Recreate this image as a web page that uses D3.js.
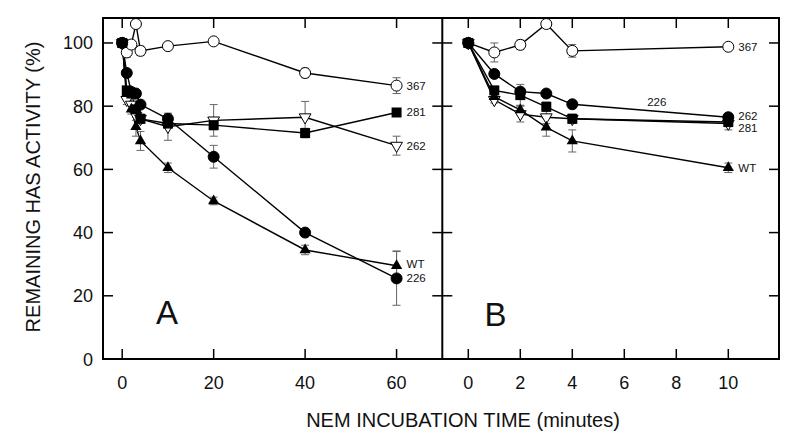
<!DOCTYPE html>
<html><head><meta charset="utf-8">
<script src="https://cdn.jsdelivr.net/npm/d3@7"></script>
<style>body{margin:0;background:#fff}svg{display:block}text{font-family:"Liberation Sans",Arial,sans-serif;fill:#111}</style>
</head><body><svg id="c" width="800" height="447"></svg>
<script>
// ---------- data ----------
const timesA = [0, 1, 2, 3, 4, 10, 20, 40, 60];
const timesB = [0, 1, 2, 3, 4, 10];
const seriesNames = ["367", "226", "281", "262", "WT"];
const markerTypes = ["circleOpen", "circle", "square", "triDownOpen", "triangle"];

const A_367 = [100, 97, 99.5, 106, 97.5, 99, 100.5, 90.5, 86.5];
const A_226 = [100, 90.5, 84.5, 84, 80.5, 76, 64, 40, 25.5];
const A_281 = [100, 85, 84, 79, 76, 74.5, 74, 71.5, 78];
const A_262 = [100, 82, 80.5, 77, 76, 73.5, 75.5, 76.5, 67.5];
const A_WT  = [100, 84, 79, 73.5, 69, 60.5, 50, 34.5, 29.5];
const A_367_err = [0, 1.5, 1, 0, 1.5, 0.8, 0.8, 1.5, 2.5];
const A_226_err = [0, 1, 1, 1, 1, 1.5, 3.6, 0.8, 8.5];
const A_281_err = [0, 1, 1, 1, 1, 1.5, 1.5, 1.5, 0];
const A_262_err = [0, 1.5, 1.5, 1.5, 1.5, 4.3, 5, 5, 3];
const A_WT_err  = [0, 1.5, 1.5, 3, 3, 1.5, 1.2, 1.5, 4.7];

const B_367 = [100, 97, 99.4, 106, 97.5, 98.8];
const B_226 = [100, 90.2, 84.6, 84, 80.6, 76.5];
const B_281 = [100, 85, 83.5, 79.8, 76, 75];
const B_262 = [100, 82, 77.5, 76.5, 76, 74.5];
const B_WT  = [100, 83, 78.8, 73.3, 69, 60.5];
const B_367_err = [0, 3, 1.5, 0, 2, 0.8];
const B_226_err = [0, 1, 1, 1, 1, 1];
const B_281_err = [0, 1, 3.4, 1.5, 1.5, 2.5];
const B_262_err = [0, 1, 2.5, 2, 1, 1];
const B_WT_err  = [0, 1, 1.5, 2.8, 3.5, 1.5];

const labelsA_y = [86.5, 78, 67.5, 30, 25.5];   // 367, 281, 262, WT, 226
const labelsA_t = ["367", "281", "262", "WT", "226"];
const labelsB_y = [98.8, 76.8, 73.2, 60.5];
const labelsB_t = ["367", "262", "281", "WT"];
const labelB226 = {t: 7.25, v: 81.2, text: "226"};

const yTicks = [0, 20, 40, 60, 80, 100];
const xTicksA = [0, 20, 40, 60];
const xTicksB = [0, 2, 4, 6, 8, 10];

// ---------- layout ----------
const svg = d3.select("#c");
const plotTop = 18, plotBottom = 359;
const y = d3.scaleLinear().domain([0, 107.9]).range([plotBottom, plotTop]);
const xA = d3.scaleLinear().domain([-4.2, 70]).range([103, 442.3]);
const xB = d3.scaleLinear().domain([-1.0, 11.95]).range([442.3, 779]);

function marker(g, type, cx, cy) {
  if (type === "circleOpen" || type === "circle") {
    g.append("circle").attr("cx", cx).attr("cy", cy).attr("r", 5.5)
      .attr("fill", type === "circle" ? "#000" : "#fff").attr("stroke", "#000").attr("stroke-width", 1);
  } else if (type === "square") {
    g.append("rect").attr("x", cx - 5).attr("y", cy - 5).attr("width", 10).attr("height", 10).attr("fill", "#000");
  } else if (type === "triangle") {
    const s = d3.symbol().type(d3.symbolTriangle).size(55);
    g.append("path").attr("d", s()).attr("transform", `translate(${cx},${cy})`).attr("fill", "#000");
  } else if (type === "triDownOpen") {
    const s = d3.symbol().type(d3.symbolTriangle).size(60);
    g.append("path").attr("d", s()).attr("transform", `translate(${cx},${cy}) rotate(180)`)
      .attr("fill", "#fff").attr("stroke", "#000").attr("stroke-width", 1);
  }
}

function drawPanel(x, times, vals, errs, order) {
  const g = svg.append("g");
  const line = d3.line().x(d => x(d[0])).y(d => y(d[1]));
  order.forEach(i => {
    g.append("path").datum(times.map((t, j) => [t, vals[i][j]]))
      .attr("d", line).attr("fill", "none").attr("stroke", "#000").attr("stroke-width", 1.4);
  });
  order.forEach(i => {
    times.forEach((t, j) => {
      const e = errs[i][j]; if (!e) return;
      const cx = x(t), y1 = y(vals[i][j] + e), y2 = y(vals[i][j] - e);
      g.append("line").attr("x1", cx).attr("x2", cx).attr("y1", y1).attr("y2", y2).attr("stroke", "#666").attr("stroke-width", 1);
      [y1, y2].forEach(yy => g.append("line").attr("x1", cx - 4).attr("x2", cx + 4).attr("y1", yy).attr("y2", yy).attr("stroke", "#666").attr("stroke-width", 1));
    });
  });
  order.forEach(i => {
    times.forEach((t, j) => marker(g, markerTypes[i], x(t), y(vals[i][j])));
  });
}

const valsA = [A_367, A_226, A_281, A_262, A_WT];
const errsA = [A_367_err, A_226_err, A_281_err, A_262_err, A_WT_err];
const valsB = [B_367, B_226, B_281, B_262, B_WT];
const errsB = [B_367_err, B_226_err, B_281_err, B_262_err, B_WT_err];
drawPanel(xA, timesA, valsA, errsA, [0, 3, 2, 4, 1]);
drawPanel(xB, timesB, valsB, errsB, [0, 3, 4, 2, 1]);

// ---------- frames & ticks ----------
const fr = svg.append("g").attr("stroke", "#000").attr("fill", "none");
fr.append("rect").attr("x", 103).attr("y", plotTop).attr("width", 779 - 103).attr("height", plotBottom - plotTop).attr("stroke-width", 2);
fr.append("line").attr("x1", 442.3).attr("x2", 442.3).attr("y1", plotTop).attr("y2", plotBottom).attr("stroke-width", 2);
const tl = 10;
yTicks.forEach(v => {
  if (v === 0) return;
  const yy = y(v);
  fr.append("line").attr("x1", 103).attr("x2", 103 + tl).attr("y1", yy).attr("y2", yy).attr("stroke-width", 1.5);
  fr.append("line").attr("x1", 442.3 - tl).attr("x2", 442.3 + tl).attr("y1", yy).attr("y2", yy).attr("stroke-width", 1.5);
  fr.append("line").attr("x1", 779 - tl).attr("x2", 779).attr("y1", yy).attr("y2", yy).attr("stroke-width", 1.5);
});
[[xA, xTicksA], [xB, xTicksB]].forEach(([x, ticks]) => {
  ticks.forEach(t => {
    const xx = x(t);
    fr.append("line").attr("x1", xx).attr("x2", xx).attr("y1", plotBottom).attr("y2", plotBottom - tl).attr("stroke-width", 1.5);
    fr.append("line").attr("x1", xx).attr("x2", xx).attr("y1", plotTop).attr("y2", plotTop + tl).attr("stroke-width", 1.5);
    svg.append("text").attr("x", xx).attr("y", 389).attr("text-anchor", "middle").attr("font-size", 18).text(t);
  });
});
yTicks.forEach(v => {
  svg.append("text").attr("x", 93).attr("y", y(v) + 6.5).attr("text-anchor", "end").attr("font-size", 18).text(v);
});

// ---------- series labels ----------
labelsA_t.forEach((t, i) => {
  svg.append("text").attr("x", xA(60) + 10).attr("y", y(labelsA_y[i]) + 4).attr("font-size", 11.5).text(t);
});
labelsB_t.forEach((t, i) => {
  svg.append("text").attr("x", xB(10) + 10).attr("y", y(labelsB_y[i]) + 4).attr("font-size", 11.5).text(t);
});
svg.append("text").attr("x", xB(labelB226.t)).attr("y", y(labelB226.v) + 4).attr("text-anchor", "middle").attr("font-size", 11.5).text(labelB226.text);

svg.append("text").attr("x", 167).attr("y", 324).attr("text-anchor", "middle").attr("font-size", 33).text("A");
svg.append("text").attr("x", 495.5).attr("y", 326).attr("text-anchor", "middle").attr("font-size", 33).text("B");

svg.append("text").attr("x", 463).attr("y", 427).attr("text-anchor", "middle").attr("font-size", 20).text("NEM INCUBATION TIME (minutes)");
svg.append("text").attr("transform", "translate(40,187) rotate(-90)").attr("text-anchor", "middle").attr("font-size", 20).text("REMAINING HAS ACTIVITY (%)");
</script></body></html>
